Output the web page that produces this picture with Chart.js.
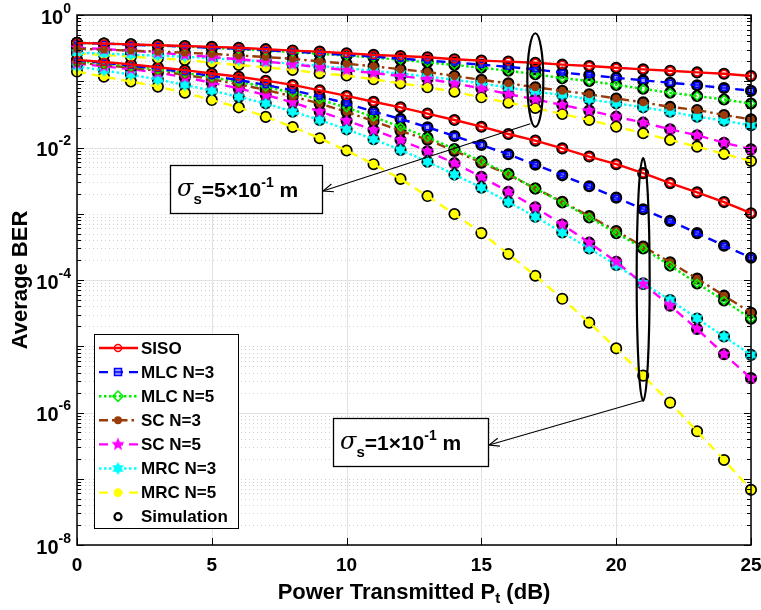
<!DOCTYPE html>
<html>
<head>
<meta charset="utf-8">
<script src="https://cdn.jsdelivr.net/npm/chart.js@4/dist/chart.umd.min.js"></script>
<style>
  html, body { margin: 0; padding: 0; background: #fff; }
</style>
</head>
<body>
<canvas id="berChart" width="761" height="610"></canvas>
<script>
// x axis: transmitted power (dB)
const power = [0, 1, 2, 3, 4, 5, 6, 7, 8, 9, 10, 11, 12, 13, 14, 15, 16, 17, 18, 19, 20, 21, 22, 23, 24, 25];

// sigma_s = 5e-1 m
const sisoA = [0.38, 0.37, 0.36, 0.35, 0.34, 0.33, 0.32, 0.305, 0.29, 0.28, 0.265, 0.25, 0.24, 0.23, 0.215, 0.205, 0.198, 0.19, 0.178, 0.17, 0.16, 0.151, 0.144, 0.136, 0.13, 0.12];
const mlc3A = [0.38, 0.37, 0.355, 0.345, 0.335, 0.32, 0.31, 0.295, 0.28, 0.265, 0.25, 0.235, 0.22, 0.205, 0.192, 0.178, 0.165, 0.151, 0.135, 0.124, 0.113, 0.103, 0.095, 0.087, 0.079, 0.072];
const mlc5A = [0.38, 0.37, 0.36, 0.345, 0.335, 0.32, 0.305, 0.29, 0.275, 0.26, 0.243, 0.228, 0.21, 0.193, 0.176, 0.16, 0.144, 0.128, 0.111, 0.101, 0.088, 0.077, 0.067, 0.06, 0.053, 0.046];
const sc3A = [0.31, 0.30, 0.29, 0.28, 0.27, 0.258, 0.245, 0.232, 0.218, 0.2, 0.184, 0.168, 0.152, 0.138, 0.12, 0.105, 0.093, 0.081, 0.072, 0.0635, 0.055, 0.048, 0.041, 0.0368, 0.031, 0.0266];
const sc5A = [0.32, 0.305, 0.29, 0.27, 0.25, 0.232, 0.215, 0.198, 0.18, 0.163, 0.147, 0.133, 0.12, 0.108, 0.093, 0.078, 0.064, 0.0533, 0.0438, 0.036, 0.0292, 0.0237, 0.0188, 0.0153, 0.0118, 0.0094];
const mrc3A = [0.27, 0.262, 0.252, 0.243, 0.235, 0.222, 0.21, 0.197, 0.184, 0.17, 0.157, 0.144, 0.13, 0.118, 0.105, 0.093, 0.08, 0.0696, 0.062, 0.0533, 0.0464, 0.0404, 0.0347, 0.0292, 0.0254, 0.0216];
const mrc5A = [0.264, 0.25, 0.235, 0.222, 0.21, 0.19, 0.176, 0.162, 0.148, 0.132, 0.122, 0.107, 0.093, 0.081, 0.0696, 0.0572, 0.0475, 0.0395, 0.032, 0.026, 0.0206, 0.0164, 0.013, 0.0103, 0.008, 0.00625];

// sigma_s = 1e-1 m
const sisoB = [0.21, 0.195, 0.18, 0.163, 0.147, 0.131, 0.117, 0.102, 0.088, 0.073, 0.06, 0.049, 0.0404, 0.0325, 0.026, 0.0206, 0.016, 0.0127, 0.0097, 0.0073, 0.0056, 0.0041, 0.0029, 0.0021, 0.0015, 0.00102];
const mlc3B = [0.205, 0.19, 0.172, 0.155, 0.138, 0.12, 0.104, 0.088, 0.073, 0.059, 0.0464, 0.0347, 0.027, 0.0202, 0.0149, 0.0109, 0.0079, 0.0055, 0.0038, 0.0026, 0.00175, 0.00117, 0.00078, 0.00051, 0.00033, 0.000217];
const mlc5B = [0.2, 0.185, 0.168, 0.15, 0.133, 0.115, 0.098, 0.082, 0.067, 0.053, 0.04, 0.029, 0.0205, 0.0142, 0.0095, 0.0062, 0.004, 0.0024, 0.00148, 0.00088, 0.00051, 0.0003, 0.000165, 0.000089, 0.000049, 0.000026];
const sc3B = [0.19, 0.175, 0.16, 0.143, 0.125, 0.107, 0.09, 0.074, 0.059, 0.046, 0.0345, 0.025, 0.0178, 0.0131, 0.0089, 0.0059, 0.0039, 0.0024, 0.00152, 0.00092, 0.00055, 0.00032, 0.000185, 0.000105, 0.000058, 0.000032];
const sc5B = [0.185, 0.168, 0.152, 0.135, 0.115, 0.095, 0.078, 0.062, 0.048, 0.035, 0.0254, 0.0184, 0.013, 0.0088, 0.0058, 0.0036, 0.00215, 0.00125, 0.00069, 0.000366, 0.000189, 0.000087, 0.000041, 0.0000182, 0.0000076, 0.0000033];
const mrc3B = [0.166, 0.146, 0.126, 0.106, 0.088, 0.072, 0.058, 0.0464, 0.0347, 0.026, 0.0188, 0.0133, 0.0092, 0.0061, 0.0039, 0.00248, 0.0015, 0.0009, 0.00052, 0.0003, 0.000168, 0.000089, 0.00005, 0.0000263, 0.000014, 0.0000074];
const mrc5B = [0.14, 0.117, 0.099, 0.083, 0.067, 0.052, 0.0404, 0.029, 0.0204, 0.0138, 0.009, 0.0056, 0.00335, 0.00185, 0.00099, 0.00051, 0.000247, 0.000116, 0.000052, 0.0000227, 0.0000093, 0.0000036, 0.00000141, 0.00000052, 0.000000192, 0.000000068];

const xTicks = [0, 5, 10, 15, 20, 25];
const yTickExps = [0, -2, -4, -6, -8];
const names = ['SISO', 'MLC N=3', 'MLC N=5', 'SC N=3', 'SC N=5', 'MRC N=3', 'MRC N=5', 'Simulation'];

// star markers (pentagram / hexagram)
function starCanvas(points, color, outer, inner) {
  const size = Math.ceil(outer * 2 + 2);
  const cv = document.createElement('canvas');
  cv.width = size;
  cv.height = size;
  const g = cv.getContext('2d');
  g.translate(size / 2, size / 2);
  g.beginPath();
  for (let i = 0; i < points * 2; i++) {
    const r = i % 2 ? inner : outer;
    const a = -Math.PI / 2 + i * Math.PI / points;
    g.lineTo(r * Math.cos(a), r * Math.sin(a));
  }
  g.closePath();
  g.fillStyle = color;
  g.fill();
  return cv;
}
const pentagram = starCanvas(5, '#ff00ff', 7, 3);
const hexagram = starCanvas(6, '#00ffff', 6.5, 3.8);

const styles = [
  { data: [sisoA, sisoB], color: '#ff0000', dash: [], marker: 'circle', fill: 'rgba(255,255,255,0)', r: 3.5 },
  { data: [mlc3A, mlc3B], color: '#0000ff', dash: [9, 6], marker: 'rect', fill: 'rgba(80,80,255,0.5)', r: 3.5 },
  { data: [mlc5A, mlc5B], color: '#00ee00', dash: [2.5, 2.5], marker: 'rectRot', fill: 'rgba(255,255,255,0)', r: 4 },
  { data: [sc3A, sc3B], color: '#9a3c0a', dash: [9, 4, 2.5, 4], marker: 'circle', fill: '#9a3c0a', r: 3.2 },
  { data: [sc5A, sc5B], color: '#ff00ff', dash: [9, 6], marker: pentagram, fill: '#ff00ff', r: 5 },
  { data: [mrc3A, mrc3B], color: '#00ffff', dash: [2.5, 2.5], marker: hexagram, fill: '#00ffff', r: 5 },
  { data: [mrc5A, mrc5B], color: '#ffff00', dash: [9, 6], marker: 'circle', fill: '#ffff00', r: 3.6 }
];

const toPoints = (arr) => power.map((x, i) => ({ x: x, y: arr[i] }));

const datasets = [];
styles.forEach((s, k) => {
  s.data.forEach((arr) => {
    datasets.push({
      label: names[k],
      data: toPoints(arr),
      borderColor: s.color,
      borderWidth: 2.4,
      borderDash: s.dash,
      pointStyle: s.marker,
      pointRadius: s.r,
      pointBackgroundColor: s.fill,
      pointBorderColor: s.color,
      pointBorderWidth: 1.5,
      fill: false,
      tension: 0,
      clip: 12
    });
  });
});
styles.forEach((s) => {
  s.data.forEach((arr) => {
    datasets.push({
      label: 'Simulation',
      data: toPoints(arr),
      showLine: false,
      pointStyle: 'circle',
      pointRadius: 4.6,
      pointBorderWidth: 2.9,
      pointBorderColor: '#000',
      pointBackgroundColor: 'rgba(0,0,0,0)',
      clip: 12
    });
  });
});

const SANS = '"Liberation Sans", Arial, sans-serif';

function drawMarker(ctx, s, x, y) {
  if (s.marker instanceof HTMLCanvasElement) {
    ctx.drawImage(s.marker, x - s.marker.width / 2, y - s.marker.height / 2);
    return;
  }
  ctx.save();
  ctx.setLineDash([]);
  ctx.lineWidth = 1.5;
  ctx.strokeStyle = s.color;
  ctx.fillStyle = s.fill;
  ctx.beginPath();
  if (s.marker === 'circle') {
    ctx.arc(x, y, s.r, 0, Math.PI * 2);
  } else if (s.marker === 'rect') {
    ctx.rect(x - s.r, y - s.r, s.r * 2, s.r * 2);
  } else if (s.marker === 'rectRot') {
    ctx.moveTo(x, y - s.r * 1.3);
    ctx.lineTo(x + s.r * 1.3, y);
    ctx.lineTo(x, y + s.r * 1.3);
    ctx.lineTo(x - s.r * 1.3, y);
    ctx.closePath();
  }
  ctx.fill();
  ctx.stroke();
  ctx.restore();
}

// text with sub/superscripts: parts = [[text, font, dy]]
function drawRich(ctx, parts, x, y, align) {
  let total = 0;
  parts.forEach((p) => { ctx.font = p[1]; total += ctx.measureText(p[0]).width; });
  let cx = align === 'center' ? x - total / 2 : (align === 'right' ? x - total : x);
  ctx.textAlign = 'left';
  parts.forEach((p) => {
    ctx.font = p[1];
    ctx.fillText(p[0], cx, y + (p[2] || 0));
    cx += ctx.measureText(p[0]).width;
  });
}

function arrow(ctx, x1, y1, x2, y2) {
  ctx.beginPath();
  ctx.moveTo(x1, y1);
  ctx.lineTo(x2, y2);
  ctx.stroke();
  const a = Math.atan2(y2 - y1, x2 - x1);
  const L = 11, w = 0.38;
  ctx.beginPath();
  ctx.moveTo(x2 - L * Math.cos(a - w), y2 - L * Math.sin(a - w));
  ctx.lineTo(x2, y2);
  ctx.lineTo(x2 - L * Math.cos(a + w), y2 - L * Math.sin(a + w));
  ctx.stroke();
}

function sigmaBox(ctx, left, top, w, h, mant) {
  ctx.fillStyle = '#fff';
  ctx.fillRect(left, top, w, h);
  ctx.strokeStyle = '#000';
  ctx.lineWidth = 1.3;
  ctx.strokeRect(left + 0.5, top + 0.5, w, h);
  ctx.fillStyle = '#000';
  ctx.textBaseline = 'alphabetic';
  const base = top + 32;
  drawRich(ctx, [
    ['\u03c3', 'italic 24px "DejaVu Serif", serif', -1],
    ['s', 'bold 15px ' + SANS, 7],
    ['=' + mant + '\u00d710', 'bold 21px ' + SANS, 0],
    ['-1', 'bold 14px ' + SANS, -10],
    [' m', 'bold 21px ' + SANS, 0]
  ], left + 7, base, 'left');
}

const decor = {
  id: 'decor',
  beforeDatasetsDraw(chart) {
    const { ctx, chartArea: a, scales: { x, y } } = chart;
    ctx.save();
    ctx.lineWidth = 1;
    // minor dotted grid on y
    ctx.strokeStyle = '#cfcfcf';
    ctx.setLineDash([1, 3]);
    for (let e = -8; e < 0; e++) {
      for (let m = 1; m <= 9; m++) {
        if (m === 1 && e % 2 === 0) continue;
        const py = Math.round(y.getPixelForValue(m * Math.pow(10, e))) + 0.5;
        ctx.beginPath();
        ctx.moveTo(a.left, py);
        ctx.lineTo(a.right, py);
        ctx.stroke();
      }
    }
    // major grid
    ctx.setLineDash([]);
    ctx.strokeStyle = '#e2e2e2';
    yTickExps.forEach((e) => {
      const py = Math.round(y.getPixelForValue(Math.pow(10, e))) + 0.5;
      ctx.beginPath();
      ctx.moveTo(a.left, py);
      ctx.lineTo(a.right, py);
      ctx.stroke();
    });
    xTicks.forEach((t) => {
      const px = Math.round(x.getPixelForValue(t)) + 0.5;
      ctx.beginPath();
      ctx.moveTo(px, a.top);
      ctx.lineTo(px, a.bottom);
      ctx.stroke();
    });
    ctx.restore();
  },
  afterDatasetsDraw(chart) {
    const { ctx, chartArea: a, scales: { x, y } } = chart;
    ctx.save();
    ctx.setLineDash([]);
    // axes box and ticks
    ctx.strokeStyle = '#000';
    ctx.lineWidth = 1.5;
    ctx.strokeRect(a.left, a.top, a.right - a.left, a.bottom - a.top);
    ctx.lineWidth = 1;
    ctx.beginPath();
    xTicks.forEach((t) => {
      const px = Math.round(x.getPixelForValue(t)) + 0.5;
      ctx.moveTo(px, a.bottom); ctx.lineTo(px, a.bottom - 7);
      ctx.moveTo(px, a.top); ctx.lineTo(px, a.top + 7);
    });
    for (let e = -8; e <= 0; e++) {
      for (let m = 1; m <= 9; m++) {
        if (e === 0 && m > 1) break;
        const py = Math.round(y.getPixelForValue(m * Math.pow(10, e))) + 0.5;
        const len = m === 1 ? 7 : 4;
        ctx.moveTo(a.left, py); ctx.lineTo(a.left + len, py);
        ctx.moveTo(a.right, py); ctx.lineTo(a.right - len, py);
      }
    }
    ctx.stroke();

    // tick labels
    ctx.fillStyle = '#000';
    ctx.textBaseline = 'middle';
    ctx.textAlign = 'center';
    ctx.font = 'bold 19px ' + SANS;
    xTicks.forEach((t) => {
      ctx.fillText(String(t), x.getPixelForValue(t), a.bottom + 21);
    });
    yTickExps.forEach((e) => {
      const py = y.getPixelForValue(Math.pow(10, e));
      drawRich(ctx, [
        ['10', 'bold 20px ' + SANS, 3],
        [String(e), 'bold 14px ' + SANS, -6]
      ], a.left - 6, py, 'right');
    });

    // axis titles
    ctx.textBaseline = 'middle';
    drawRich(ctx, [
      ['Power Transmitted P', 'bold 22px ' + SANS, 0],
      ['t', 'bold 15px ' + SANS, 6],
      [' (dB)', 'bold 22px ' + SANS, 0]
    ], 414, a.bottom + 48, 'center');
    ctx.save();
    ctx.translate(21, 280);
    ctx.rotate(-Math.PI / 2);
    ctx.textAlign = 'center';
    ctx.textBaseline = 'middle';
    ctx.font = 'bold 22px ' + SANS;
    ctx.fillText('Average BER', 0, 0);
    ctx.restore();

    // legend
    const lx = 94, ly = 334, lw = 144, lh = 194;
    ctx.fillStyle = '#fff';
    ctx.fillRect(lx, ly, lw, lh);
    ctx.strokeStyle = '#000';
    ctx.lineWidth = 1;
    ctx.strokeRect(lx + 0.5, ly + 0.5, lw, lh);
    ctx.font = 'bold 17px ' + SANS;
    ctx.textAlign = 'left';
    ctx.textBaseline = 'middle';
    names.forEach((n, i) => {
      const ry = ly + 14 + i * 24.1;
      if (i < styles.length) {
        const s = styles[i];
        ctx.save();
        ctx.strokeStyle = s.color;
        ctx.lineWidth = 2.4;
        ctx.setLineDash(s.dash);
        ctx.beginPath();
        ctx.moveTo(lx + 5, ry);
        ctx.lineTo(lx + 44, ry);
        ctx.stroke();
        ctx.restore();
        drawMarker(ctx, s, lx + 24, ry);
      } else {
        ctx.save();
        ctx.strokeStyle = '#000';
        ctx.lineWidth = 2.2;
        ctx.beginPath();
        ctx.arc(lx + 24, ry, 3.5, 0, Math.PI * 2);
        ctx.stroke();
        ctx.restore();
      }
      ctx.fillStyle = '#000';
      ctx.fillText(n, lx + 47, ry + 1);
    });

    // annotations: ellipses, arrows, boxes
    ctx.strokeStyle = '#000';
    ctx.lineWidth = 2.2;
    const e1x = x.getPixelForValue(17), e1t = y.getPixelForValue(0.53), e1b = y.getPixelForValue(0.0205);
    ctx.beginPath();
    ctx.ellipse(e1x, (e1t + e1b) / 2, 8, (e1b - e1t) / 2, 0, 0, Math.PI * 2);
    ctx.stroke();
    const e2x = x.getPixelForValue(21), e2t = y.getPixelForValue(0.0069), e2b = y.getPixelForValue(1.5e-6);
    ctx.beginPath();
    ctx.ellipse(e2x, (e2t + e2b) / 2, 6.5, (e2b - e2t) / 2, 0, 0, Math.PI * 2);
    ctx.stroke();
    ctx.lineWidth = 1.1;
    arrow(ctx, e1x - 5, e1b - 3, 323, 191);
    arrow(ctx, e2x - 1, e2b, 489, 445);

    sigmaBox(ctx, 170, 165, 152, 48, '5');
    sigmaBox(ctx, 333, 418, 155, 48, '1');
    ctx.restore();
  }
};

new Chart(document.getElementById('berChart'), {
  type: 'line',
  data: { datasets: datasets },
  options: {
    responsive: false,
    animation: false,
    devicePixelRatio: 1,
    layout: { padding: { left: 77, top: 15, right: 10, bottom: 65 } },
    plugins: { legend: { display: false }, tooltip: { enabled: false } },
    scales: {
      x: { type: 'linear', min: 0, max: 25, display: false },
      y: { type: 'logarithmic', min: 1e-8, max: 1, display: false }
    }
  },
  plugins: [decor]
});
</script>
</body>
</html>
